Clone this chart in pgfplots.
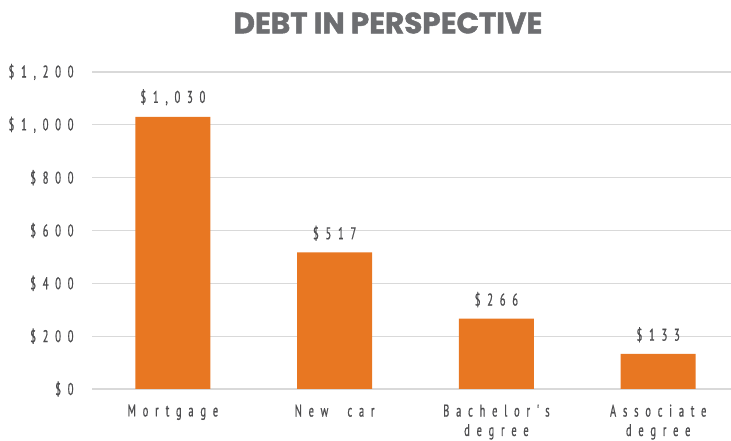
\documentclass[border=0pt]{standalone}
\usepackage{fontspec}
\usepackage{pgfplots}
\pgfplotsset{compat=1.18}
\setmainfont{PT Sans}
\newfontfamily\lab[FakeStretch=0.62,LetterSpace=40,FakeBold=0.8]{PT Sans}
\newfontfamily\ttl[FakeBold=1.5]{Poppins}
\definecolor{barorange}{HTML}{E87722}
\definecolor{labgray}{HTML}{4D4D4F}
\definecolor{titlegray}{HTML}{6D6E71}
\definecolor{gridgray}{HTML}{D9D9D9}
\begin{document}
\begin{tikzpicture}[x=1bp,y=1bp]
\useasboundingbox (0,0) rectangle (731,441);
\node[font=\ttl\fontsize{29.5}{32}\selectfont\bfseries, text=titlegray] at (388,418) {DEBT IN PERSPECTIVE};
\begin{axis}[
    at={(92bp,52bp)}, anchor=south west,
    scale only axis,
    width=639bp, height=317bp,
    xmin=-0.5, xmax=3.45,
    ymin=0, ymax=1200,
    ytick={0,200,400,600,800,1000,1200},
    xtick={0,1,2,3},
    xticklabels={Mortgage, New\ \ car, Bachelor's\\degree, Associate\\degree},
    axis line style={draw=none},
    major tick length=0pt,
    ymajorgrids,
    grid style={gridgray, line width=1.3bp},
    /pgf/number format/assume math mode=true,
    /pgf/number format/1000 sep={,},
    yticklabel={\$\pgfmathprintnumber{\tick}},
    yticklabel style={font=\lab\fontsize{17}{18}\selectfont, text=labgray, xshift=-15bp},
    xticklabel style={font=\lab\fontsize{17}{19.5}\selectfont, text=labgray, align=center, yshift=-12bp},
    ybar, bar width=75bp,
    nodes near coords={\$\pgfmathprintnumber{\pgfplotspointmeta}},
    every node near coord/.append style={font=\lab\fontsize{17}{18}\selectfont, text=labgray, yshift=8bp},
    clip=false,
]
\addplot[fill=barorange, draw=none] coordinates {(0,1030) (1,517) (2,266) (3,133)};
\end{axis}
\end{tikzpicture}
\end{document}
